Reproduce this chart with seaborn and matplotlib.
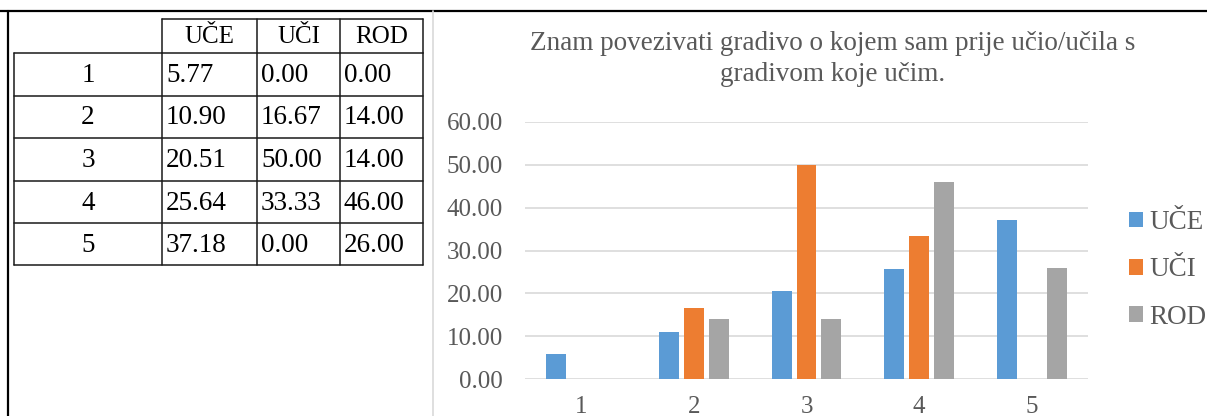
import matplotlib
matplotlib.use("Agg")
import matplotlib.pyplot as plt
from matplotlib.ticker import FormatStrFormatter
import seaborn as sns
import pandas as pd

categories = ['1', '2', '3', '4', '5']
series = ['UČE', 'UČI', 'ROD']
uce = [5.77, 10.90, 20.51, 25.64, 37.18]
uci = [0.00, 16.67, 50.00, 33.33, 0.00]
rod = [0.00, 14.00, 14.00, 46.00, 26.00]
colors = ['#5B9BD5', '#ED7D31', '#A5A5A5']
title = 'Znam povezivati gradivo o kojem sam prije učio/učila s\ngradivom koje učim.'

sns.set_style('white')
plt.rcParams['font.family'] = ['Liberation Serif', 'DejaVu Serif']

W, H = 1207, 416
fig = plt.figure(figsize=(W / 100, H / 100), dpi=100)

# background layer in pixel coords: page borders + table
bg = fig.add_axes([0, 0, 1, 1])
bg.set_xlim(0, W)
bg.set_ylim(H, 0)
bg.axis('off')

bg.plot([0, W], [11, 11], color='black', lw=1.6)
bg.plot([8, 8], [11, H], color='black', lw=1.6)
bg.plot([433, 433], [11, H], color='#D9D9D9', lw=1.2)

col_edges = [14, 162, 257, 340, 423]
row_edges = [19, 53, 96, 138, 181, 223, 265]
lc = '#1a1a1a'
# header row (no top-left cell)
bg.plot([col_edges[1], col_edges[-1]], [row_edges[0], row_edges[0]], color=lc, lw=1.1)
for x in col_edges[1:]:
    bg.plot([x, x], [row_edges[0], row_edges[1]], color=lc, lw=1.1)
for y in row_edges[1:]:
    bg.plot([col_edges[0], col_edges[-1]], [y, y], color=lc, lw=1.1)
for x in col_edges:
    bg.plot([x, x], [row_edges[1], row_edges[-1]], color=lc, lw=1.1)

for j, s in enumerate(series):
    bg.text((col_edges[j + 1] + col_edges[j + 2]) / 2, (row_edges[0] + row_edges[1]) / 2 + 1, s,
            ha='center', va='center', fontsize=18, color='black')
cols = [uce, uci, rod]
for i, c in enumerate(categories):
    yc = (row_edges[i + 1] + row_edges[i + 2]) / 2 + 1
    bg.text((col_edges[0] + col_edges[1]) / 2, yc, c, ha='center', va='center', fontsize=19.5, color='black')
    for j in range(3):
        bg.text(col_edges[j + 1] + 4, yc, '%.2f' % cols[j][i], ha='left', va='center',
                fontsize=19.5, color='black')

# chart
df = pd.DataFrame({
    'cat': categories * 3,
    'series': [s for s in series for _ in categories],
    'val': uce + uci + rod,
})

ax = fig.add_axes([525 / W, (H - 379) / H, 563 / W, 257 / H])
sns.barplot(data=df, x='cat', y='val', hue='series', order=categories, hue_order=series,
            palette=colors, width=0.665, gap=0.2, linewidth=0, saturation=1, ax=ax)
ax.set_xlim(-0.5, 4.5)
ax.set_ylim(0, 60)
ax.set_yticks(range(0, 61, 10))
ax.yaxis.set_major_formatter(FormatStrFormatter('%.2f'))
ax.grid(axis='y', color='#D9D9D9', lw=1.2)
ax.set_axisbelow(True)
for sp in ax.spines.values():
    sp.set_visible(False)
ax.tick_params(axis='both', length=0, labelsize=18, labelcolor='#595959')
ax.tick_params(axis='y', pad=16)
ax.tick_params(axis='x', pad=12)
ax.set_xlabel('')
ax.set_ylabel('')

fig.text(833 / W, (H - 59) / H, title, ha='center', va='center', fontsize=19.5,
         color='#595959', linespacing=1.32)

sns.move_legend(ax, loc='center left', bbox_to_anchor=(1129 / W, (H - 270) / H),
                bbox_transform=fig.transFigure, frameon=False, title=None,
                fontsize=19.5, handlelength=0.5, handleheight=0.5, handletextpad=0.25,
                labelspacing=0.82, borderpad=0, borderaxespad=0, labelcolor='#595959')

fig.savefig('out.png', dpi=100)
